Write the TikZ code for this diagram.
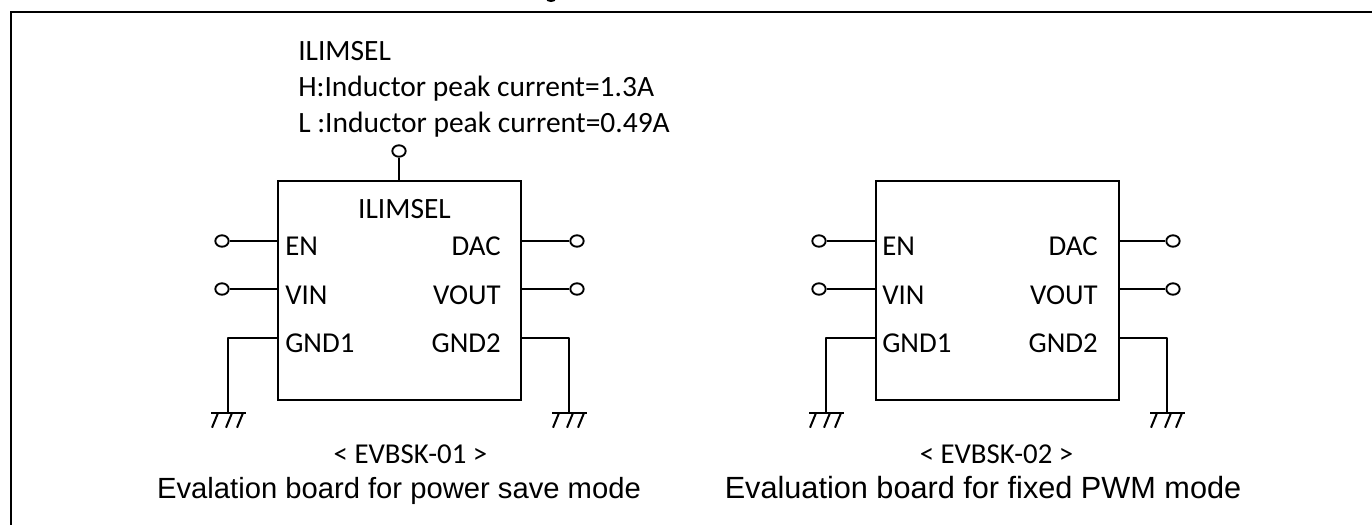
\documentclass[tikz,border=0pt]{standalone}
\usepackage{fontspec}
\setmainfont{Carlito}
\newfontfamily\capfont{Liberation Sans}
\usetikzlibrary{shapes.geometric}
\tikzset{
  x=0.75pt,y=-0.75pt,
  wire/.style={line width=1.5pt,line join=round},
  frameline/.style={line width=1.7pt},
  chip/.style={draw,line width=1.5pt,rectangle,minimum width=182.25pt,minimum height=164.25pt,inner sep=0pt},
  term/.style={draw,line width=1.4pt,ellipse,minimum width=10pt,minimum height=8.6pt,inner sep=0pt,fill=white},
  pinlabel/.style={font=\fontsize{21.6}{24}\selectfont,inner sep=0pt},
  notelabel/.style={font=\fontsize{22.1}{24}\selectfont,inner sep=0pt,anchor=base west},
  lpin/.style={pinlabel,anchor=base west},
  rpin/.style={pinlabel,anchor=base east},
  tag/.style={pinlabel,anchor=base},
  caption/.style={font=\capfont\fontsize{21.9}{24}\selectfont,inner sep=0pt,anchor=base},
  captionwide/.style={font=\capfont\fontsize{23}{24}\selectfont,inner sep=0pt,anchor=base},
  gndbar/.style={line width=2pt},
  hatch/.style={line width=1.5pt}
}
\newcommand{\gndsym}[1]{%
  \coordinate (#1bl) at ([xshift=-12.75pt]#1);
  \coordinate (#1br) at ([xshift=13.5pt]#1);
  \draw[gndbar] (#1bl) -- (#1br);
  \foreach \dx in {-7.5,3,11.25}
    \draw[hatch] ([xshift=\dx pt]#1) -- ([xshift=\dx pt-4.5pt,yshift=-11pt]#1);
}
\begin{document}
\begin{tikzpicture}
\useasboundingbox (0,0) rectangle (1372,525);
\fill[white] (0,0) rectangle (1372,525);
% clipped title fragment and page frame
\coordinate (fa) at (11,525);
\coordinate (fb) at (11,12);
\coordinate (fc) at (1372,12);
\draw[frameline] (fa) -- (fb) -- (fc);
\begin{scope}
\clip (540,0) rectangle (562,4);
\fill (551,-1) ellipse (5 and 3);
\end{scope}

% note above board 1
\node[notelabel] (n1) at (298,60) {ILIMSEL};
\node[notelabel] (n2) at (298,96) {H:Inductor peak current=1.3A};
\node[notelabel] (n3) at (298,132) {L :Inductor peak current=0.49A};

% board 1
\node[chip] (A) at (399.5,290.5) {};
\node[notelabel,anchor=base] (Ai) at (404.5,218) {ILIMSEL};
\node[lpin] (Aen) at (285,255) {EN};
\node[lpin] (Avin) at (285,304) {VIN};
\node[lpin] (Ag1) at (285,352) {GND1};
\node[rpin] (Adac) at (501,255) {DAC};
\node[rpin] (Avout) at (501,304) {VOUT};
\node[rpin] (Ag2) at (501,352) {GND2};
\node[term] (At) at (399,151) {};
\node[term] (Atl1) at (222,241) {};
\node[term] (Atl2) at (222,289) {};
\node[term] (Atr1) at (577,241) {};
\node[term] (Atr2) at (577,289) {};
\coordinate (Agl) at (228,413);
\coordinate (Agr) at (569,413);
\draw[wire] (At) -- (At |- A.north);
\draw[wire] (Atl1) -- (Atl1 -| A.west);
\draw[wire] (Atl2) -- (Atl2 -| A.west);
\draw[wire] (Atr1) -- (Atr1 -| A.east);
\draw[wire] (Atr2) -- (Atr2 -| A.east);
\coordinate (Ap1) at (278,338);
\coordinate (Ap2) at (521,338);
\draw[wire] (Ap1) -| (Agl);
\draw[wire] (Ap2) -| (Agr);
\gndsym{Agl}
\gndsym{Agr}
\node[tag] (Ac1) at (410.5,463) {< EVBSK-01 >};
\node[caption] (Ac2) at (399,498) {Evalation board for power save mode};

% board 2
\node[chip] (B) at (997,290.5) {};
\node[lpin] (Ben) at (882,255) {EN};
\node[lpin] (Bvin) at (882,304) {VIN};
\node[lpin] (Bg1) at (882,352) {GND1};
\node[rpin] (Bdac) at (1098,255) {DAC};
\node[rpin] (Bvout) at (1098,304) {VOUT};
\node[rpin] (Bg2) at (1098,352) {GND2};
\node[term] (Btl1) at (819,241) {};
\node[term] (Btl2) at (819,289) {};
\node[term] (Btr1) at (1173,241) {};
\node[term] (Btr2) at (1173,289) {};
\coordinate (Bgl) at (826,413);
\coordinate (Bgr) at (1167,413);
\draw[wire] (Btl1) -- (Btl1 -| B.west);
\draw[wire] (Btl2) -- (Btl2 -| B.west);
\draw[wire] (Btr1) -- (Btr1 -| B.east);
\draw[wire] (Btr2) -- (Btr2 -| B.east);
\coordinate (Bp1) at (876,338);
\coordinate (Bp2) at (1118,338);
\draw[wire] (Bp1) -| (Bgl);
\draw[wire] (Bp2) -| (Bgr);
\gndsym{Bgl}
\gndsym{Bgr}
\node[tag] (Bc1) at (996.5,463) {< EVBSK-02 >};
\node[captionwide] (Bc2) at (983,498) {Evaluation board for fixed PWM mode};
\end{tikzpicture}
\end{document}
